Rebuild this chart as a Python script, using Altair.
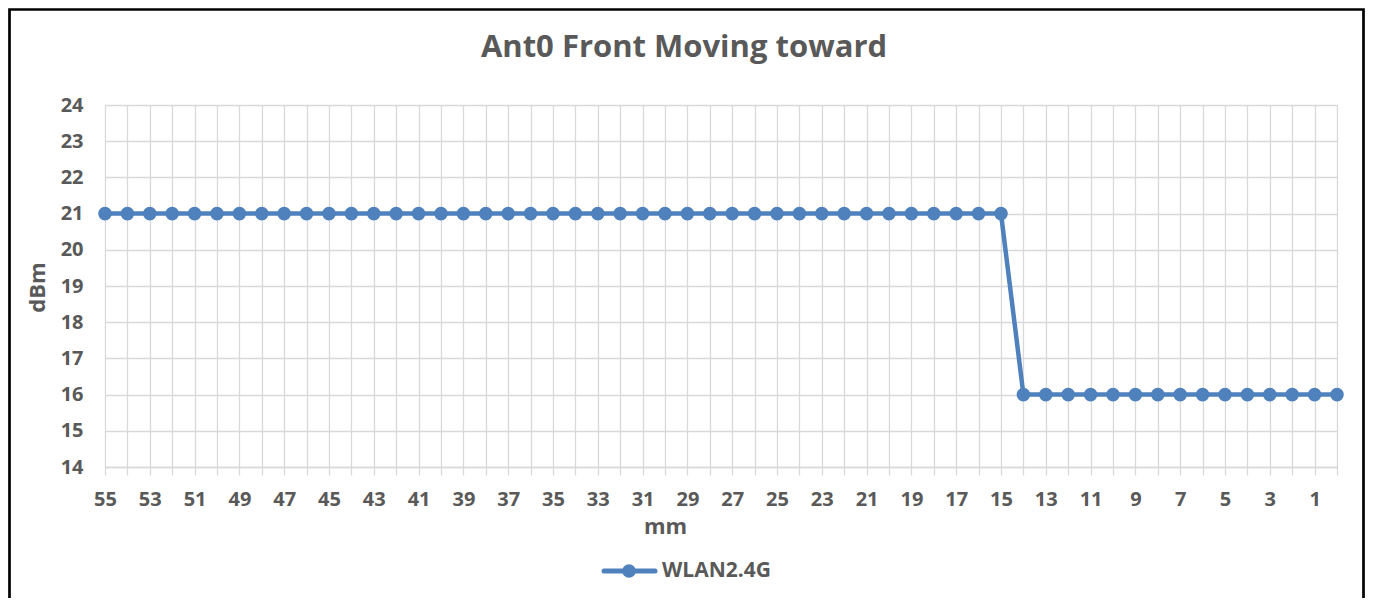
import altair as alt
import pandas as pd

# ---- data ----
mm = [55, 54, 53, 52, 51, 50, 49, 48, 47, 46, 45, 44, 43, 42, 41, 40, 39, 38, 37, 36,
      35, 34, 33, 32, 31, 30, 29, 28, 27, 26, 25, 24, 23, 22, 21, 20, 19, 18, 17, 16,
      15, 14, 13, 12, 11, 10, 9, 8, 7, 6, 5, 4, 3, 2, 1, 0]
dbm = [21, 21, 21, 21, 21, 21, 21, 21, 21, 21, 21, 21, 21, 21, 21, 21, 21, 21, 21, 21,
       21, 21, 21, 21, 21, 21, 21, 21, 21, 21, 21, 21, 21, 21, 21, 21, 21, 21, 21, 21,
       21, 16, 16, 16, 16, 16, 16, 16, 16, 16, 16, 16, 16, 16, 16, 16]
y_ticks = [14, 15, 16, 17, 18, 19, 20, 21, 22, 23, 24]
series_name = "WLAN2.4G"
chart_title = "Ant0 Front Moving toward"
x_title = "mm"
y_title = "dBm"

df = pd.DataFrame({"mm": mm, "dBm": dbm, "series": [series_name] * len(mm)})

BLUE = "#4f81bd"
GRAY = "#595959"
GRID = "#d9d9d9"
FONT = "Open Sans"
W, H = 1232, 362

x_enc = alt.X(
    "mm:Q",
    scale=alt.Scale(domain=[0, 55], reverse=True, nice=False, zero=False),
    axis=alt.Axis(
        values=mm,
        labelExpr="datum.value % 2 == 1 ? datum.label : ''",
        labelOverlap=False,
        labelFlush=False,
        grid=True,
        gridColor=GRID,
        gridWidth=1.3,
        domainColor=GRID,
        domainWidth=1.3,
        tickColor=GRID,
        tickWidth=1.3,
        tickSize=8,
        labelPadding=14,
        labelFont=FONT,
        labelFontSize=20,
        labelFontWeight="bold",
        labelColor=GRAY,
        title=x_title,
        titleFont=FONT,
        titleFontSize=22,
        titleFontWeight="bold",
        titleColor=GRAY,
        titleX=560,
        titleY=66,
        titleAlign="center",
        titleBaseline="alphabetic",
    ),
)
y_enc = alt.Y(
    "dBm:Q",
    scale=alt.Scale(domain=[14, 24], nice=False, zero=False),
    axis=alt.Axis(
        values=y_ticks,
        grid=True,
        gridColor=GRID,
        gridWidth=1.3,
        domain=False,
        ticks=False,
        labelPadding=22,
        labelFont=FONT,
        labelFontSize=20,
        labelFontWeight="bold",
        labelColor=GRAY,
        title=y_title,
        titleFont=FONT,
        titleFontSize=22,
        titleFontWeight="bold",
        titleColor=GRAY,
        titleX=-68,
        titleY=182,
        titleAngle=-90,
        titleAlign="center",
        titleBaseline="middle",
    ),
)

base = alt.Chart(df)
line = base.mark_line(color=BLUE, strokeWidth=4.5).encode(x=x_enc, y=y_enc)
pts = base.mark_point(filled=True, color=BLUE, size=185, opacity=1).encode(x=x_enc, y=y_enc)

one = alt.Data(values=[{"label": series_name, "title": chart_title}])

title_mark = alt.Chart(one).mark_text(
    font=FONT, fontSize=31, fontWeight="bold", color=GRAY,
    align="center", baseline="alphabetic"
).encode(x=alt.value(579), y=alt.value(-48), text="title:N")

leg_line = alt.Chart(one).mark_rule(color=BLUE, strokeWidth=5, strokeCap="round").encode(
    x=alt.value(499), x2=alt.value(550), y=alt.value(466))
leg_pt = alt.Chart(one).mark_point(filled=True, color=BLUE, size=185, opacity=1).encode(
    x=alt.value(524), y=alt.value(466))
leg_txt = alt.Chart(one).mark_text(
    font=FONT, fontSize=21, fontWeight="bold", color=GRAY, align="left", baseline="middle"
).encode(x=alt.value(557), y=alt.value(466), text="label:N")

frame = alt.Chart(one).mark_rect(fill=None, stroke="black", strokeWidth=2.7).encode(
    x=alt.value(-95.5), x2=alt.value(1258.5), y=alt.value(-95.5), y2=alt.value(520))

chart = alt.layer(frame, line, pts, title_mark, leg_line, leg_pt, leg_txt).properties(
    width=W, height=H,
    autosize=alt.AutoSizeParams(type="none"),
    padding={"left": 97, "top": 97, "right": 28, "bottom": 131},
).configure_view(stroke=None).configure(background="white")

chart.save("out.html", embed_options={"renderer": "svg", "actions": False})
